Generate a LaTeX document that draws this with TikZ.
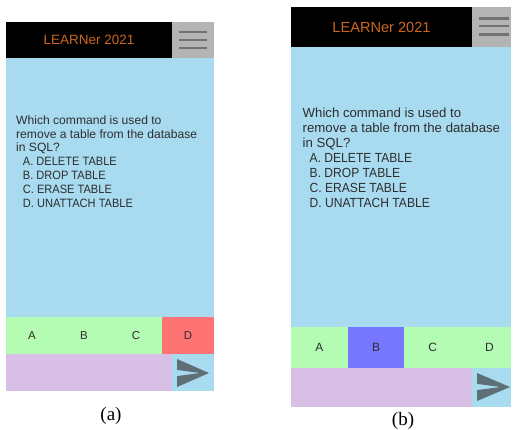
\documentclass[tikz,border=0pt]{standalone}
\usepackage{fontspec}
\setmainfont{Liberation Serif}
\newfontfamily\uifont{Liberation Sans}
\newfontfamily\uicaps[FakeStretch=0.915]{Liberation Sans}

\definecolor{hdrblack}{HTML}{000000}
\definecolor{menugray}{HTML}{B4B4B4}
\definecolor{menuline}{HTML}{727272}
\definecolor{screenblue}{HTML}{A8DBF0}
\definecolor{btngreen}{HTML}{B4FCB4}
\definecolor{btnred}{HTML}{FE7474}
\definecolor{btnblue}{HTML}{7676FE}
\definecolor{inputlilac}{HTML}{D8BFE6}
\definecolor{sendgray}{HTML}{5E6F76}
\definecolor{titleorange}{HTML}{CC661E}
\definecolor{qgray}{HTML}{2E2E2E}

\begin{document}
\begin{tikzpicture}[x=1pt,y=-1pt,
  qline/.style={anchor=base west, inner sep=0pt, text=qgray},
  titletext/.style={inner sep=0pt, text=titleorange},
  btnlabel/.style={inner sep=0pt, text=qgray},
  caption/.style={inner sep=0pt, text=black, font=\fontsize{19}{22}\selectfont},
  menubar/.style={draw=menuline, line cap=butt},
  sendicon/.style={fill=sendgray}]
\useasboundingbox (0,0) rectangle (513,430);

% ---------- screen (a) ----------
\fill[hdrblack] (6,22) rectangle (172,58);
\fill[menugray] (172,22) rectangle (214,58);
\foreach \y in {32.3,40,48}
  \draw[menubar, line width=2.3pt] (179,\y) -- (207,\y);
\fill[screenblue] (6,58) rectangle (214,317);
\fill[btngreen] (6,317) rectangle (214,354);
\fill[btnred] (162,317) rectangle (214,354);
\fill[inputlilac] (6,354) rectangle (172,391);
\fill[screenblue] (172,354) rectangle (214,391);
\fill[sendicon] (177,359) -- (209,373) -- (177,387) -- (177,376.1)
  -- (199.9,373) -- (177,369.9) -- cycle;

\node[titletext, font=\uifont\fontsize{13.5}{16}\selectfont] (titleA) at (89,40) {LEARNer 2021};

\foreach \t [count=\i] in {Which command is used to, remove a table from the database, in SQL?}
  \node[qline, font=\uifont\fontsize{12.1}{14}\selectfont] (qA\i) at (16,{124.3+13.8*(\i-1)}) {\t};
\foreach \t [count=\i] in {A. DELETE TABLE, B. DROP TABLE, C. ERASE TABLE, D. UNATTACH TABLE}
  \node[qline, font=\uicaps\fontsize{12.1}{14}\selectfont] (oA\i) at (22.7,{124.3+13.8*(\i+2)}) {\t};

\foreach \t [count=\i] in {A,B,C,D}
  \node[btnlabel, font=\uifont\fontsize{11.5}{13}\selectfont] (bA\i) at ({32+52*(\i-1)},335.5) {\t};

\node[caption] (capA) at (111,415.5) {(a)};

% ---------- screen (b) ----------
\fill[hdrblack] (291,7) rectangle (472,46.7);
\fill[menugray] (472,7) rectangle (511,46.7);
\foreach \y in {18.3,26,34.7}
  \draw[menubar, line width=2.5pt] (479,\y) -- (509,\y);
\fill[screenblue] (291,46.7) rectangle (511,327);
\fill[btngreen] (291,327) rectangle (511,368);
\fill[btnblue] (347.7,327) rectangle (404.3,368);
\fill[inputlilac] (291,368) rectangle (472,407);
\fill[screenblue] (472,368) rectangle (511,407);
\fill[sendicon] (477,373) -- (510,387) -- (477,401) -- (477,390.1)
  -- (500.6,387) -- (477,383.9) -- cycle;

\node[titletext, font=\uifont\fontsize{14.6}{17}\selectfont] (titleB) at (381.5,27) {LEARNer 2021};

\foreach \t [count=\i] in {Which command is used to, remove a table from the database, in SQL?}
  \node[qline, font=\uifont\fontsize{13.2}{15}\selectfont] (qB\i) at (302.5,{118+14.9*(\i-1)}) {\t};
\foreach \t [count=\i] in {A. DELETE TABLE, B. DROP TABLE, C. ERASE TABLE, D. UNATTACH TABLE}
  \node[qline, font=\uicaps\fontsize{13.2}{15}\selectfont] (oB\i) at (309.5,{118+14.9*(\i+2)}) {\t};

\foreach \t [count=\i] in {A,B,C,D}
  \node[btnlabel, font=\uifont\fontsize{12}{14}\selectfont] (bB\i) at ({319.3+56.7*(\i-1)},347.5) {\t};

\node[caption] (capB) at (403,420.8) {(b)};
\end{tikzpicture}
\end{document}
